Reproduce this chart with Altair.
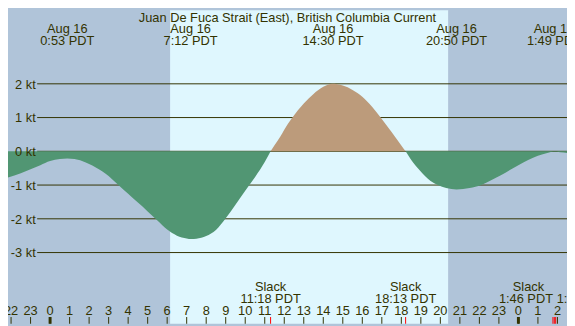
import altair as alt
import pandas as pd

# ---------------- data ----------------
TITLE = "Juan De Fuca Strait (East), British Columbia Current"

# current curve: hours since 00:00 Aug 16 PDT, knots
curve_hours = [-2.16, -1.5, -1.0, -0.5, 0.0, 0.5, 0.88, 1.25, 1.83, 2.5, 2.83,
               3.5, 4.0, 4.5, 5.0, 5.5, 6.0, 6.5, 7.0, 7.23, 7.5, 8.0, 8.5,
               9.0, 9.5, 10.0, 10.5, 11.0, 11.3,
               11.5, 11.8, 12.0, 12.38, 13.0, 13.5, 14.0, 14.45, 15.0, 15.5,
               16.0, 16.5, 16.94, 17.5, 18.0, 18.22,
               18.5, 18.95, 19.5, 19.87, 20.3, 20.83, 21.5, 22.1, 22.6, 23.1,
               23.7, 24.25, 24.75, 25.25, 25.8, 26.49]
curve_knots = [-0.78, -0.65, -0.53, -0.41, -0.29, -0.23, -0.21, -0.23, -0.33, -0.53, -0.66,
               -1.0, -1.26, -1.52, -1.78, -2.05, -2.32, -2.50, -2.58, -2.60, -2.59, -2.51, -2.33,
               -1.98, -1.58, -1.17, -0.77, -0.32, 0.0,
               0.18, 0.44, 0.64, 0.97, 1.42, 1.70, 1.91, 2.0, 1.95, 1.82,
               1.62, 1.32, 1.0, 0.57, 0.17, 0.0,
               -0.25, -0.57, -0.88, -1.0, -1.09, -1.13, -1.09, -1.0, -0.86, -0.71,
               -0.51, -0.33, -0.19, -0.09, -0.01, -0.05]
# slack (zero-crossing) hours separating ebb / flood segments
crossing_hours = [11.3, 18.22]

# day / night bands (sunrise ~6:09, sunset ~20:25)
band_start = [-2.16, 6.15, 20.41]
band_end = [6.15, 20.41, 26.49]
band_kind = ["night", "day", "night"]

# horizontal guide lines
grid_knots = [2, 1, 0, -1, -2, -3]
grid_labels = ["2 kt", "1 kt", "0 kt", "-1 kt", "-2 kt", "-3 kt"]

# max / min current events (top labels)
event_hours = [0.88, 7.2, 14.5, 20.83, 25.82]
event_dates = ["Aug 16", "Aug 16", "Aug 16", "Aug 16", "Aug 17"]
event_times = ["0:53 PDT", "7:12 PDT", "14:30 PDT", "20:50 PDT", "1:49 PDT"]

# slack events (bottom labels)
slack_hours = [11.3, 18.22]
slack_times = ["11:18 PDT", "18:13 PDT"]
end_slack_hours = [25.77]
end_slack_times = ["1:46 PDT"]
edge_slack_hours = [25.91]
edge_slack_times = ["1:55 PDT"]
red_tick_hours = [11.3, 18.22, 25.77, 25.84, 25.91]

# hour ticks
tick_hours = list(range(-2, 27))
tick_labels = [str(h % 24) for h in tick_hours]
midnight_hours = [0, 24]

# ---------------- styling ----------------
W, H = 567, 318
SX, SY = W / 575, H / 326
NIGHT = "#b0c4d9"
DAY = "#dff7fe"
EBB = "#519673"
FLOOD = "#bc9b7b"
INK = "#333300"
FONT = "Liberation Sans"
FS = 13

xs = alt.Scale(domain=[-2.157, 26.49], nice=False, zero=False)
ys = alt.Scale(domain=[-5.11, 4.18], nice=False, zero=False)


def X(field):
    return alt.X(field, type="quantitative", scale=xs, axis=None)


def Y(field):
    return alt.Y(field, type="quantitative", scale=ys, axis=None)


bands = alt.Chart(pd.DataFrame({"start": band_start, "end": band_end, "kind": band_kind})).mark_rect().encode(
    x=X("start"), x2="end",
    color=alt.Color("kind:N", scale=alt.Scale(domain=["night", "day"], range=[NIGHT, DAY]), legend=None),
)

grid_df = pd.DataFrame({"kt": grid_knots, "label": grid_labels})
grid = alt.Chart(grid_df).mark_rule(color=INK, strokeWidth=1).encode(
    y=Y("kt"), x=alt.value(30 * SX), x2=alt.value(W)
)

# split the curve into ebb / flood segments at the slack crossings
curve = pd.DataFrame({"h": curve_hours, "v": curve_knots})
edges = [curve_hours[0]] + crossing_hours + [curve_hours[-1]]
parts = []
for i in range(len(edges) - 1):
    seg = curve[(curve.h >= edges[i]) & (curve.h <= edges[i + 1])].copy()
    seg["seg"] = i
    seg["kind"] = "flood" if seg.v.mean() > 0 else "ebb"
    parts.append(seg)
seg_df = pd.concat(parts, ignore_index=True)

areas = alt.Chart(seg_df).mark_area(interpolate="monotone", opacity=1).encode(
    x=X("h"), y=Y("v"), y2=alt.datum(0), detail="seg:N",
    color=alt.Color("kind:N", scale=alt.Scale(domain=["ebb", "flood"], range=[EBB, FLOOD]), legend=None),
)

ylabels = alt.Chart(grid_df).mark_text(
    align="right", baseline="middle", font=FONT, fontSize=FS, color=INK, dy=1
).encode(y=Y("kt"), x=alt.value(28.5 * SX), text="label:N")

title = alt.Chart(pd.DataFrame({"t": [TITLE]})).mark_text(
    align="center", baseline="alphabetic", font=FONT, fontSize=FS, color=INK
).encode(x=alt.value(W / 2), y=alt.value(12 * SY), text="t:N")

txt = dict(baseline="alphabetic", font=FONT, fontSize=FS, color=INK)

ev_df = pd.DataFrame({"h": event_hours, "d": event_dates, "t": event_times})
ev_date = alt.Chart(ev_df).mark_text(align="center", **txt).encode(
    x=X("h"), y=alt.value(23.3 * SY), text="d:N")
ev_time = alt.Chart(ev_df).mark_text(align="center", **txt).encode(
    x=X("h"), y=alt.value(36 * SY), text="t:N")

sl_df = pd.DataFrame({"h": slack_hours, "t": slack_times})
sl_word = alt.Chart(sl_df).mark_text(align="center", **txt).encode(
    x=X("h"), y=alt.value(291.7 * SY), text=alt.value("Slack"))
sl_time = alt.Chart(sl_df).mark_text(align="center", **txt).encode(
    x=X("h"), y=alt.value(304 * SY), text="t:N")

end_df = pd.DataFrame({"h": end_slack_hours, "t": end_slack_times})
end_word = alt.Chart(end_df).mark_text(align="right", dx=-9, **txt).encode(
    x=X("h"), y=alt.value(291.7 * SY), text=alt.value("Slack"))
end_time = alt.Chart(end_df).mark_text(align="right", **txt).encode(
    x=X("h"), y=alt.value(304 * SY), text="t:N")

edge_df = pd.DataFrame({"h": edge_slack_hours, "t": edge_slack_times})
edge_time = alt.Chart(edge_df).mark_text(align="left", dx=1, **txt).encode(
    x=X("h"), y=alt.value(304 * SY), text="t:N")

tick_df = pd.DataFrame({"h": tick_hours, "lab": tick_labels})
hour_labels = alt.Chart(tick_df).mark_text(align="center", **txt).encode(
    x=X("h"), y=alt.value(316.7 * SY), text="lab:N")
hour_ticks = alt.Chart(tick_df).mark_rule(color=INK, strokeWidth=1).encode(
    x=X("h"), y=alt.value(319 * SY), y2=alt.value(H))
mid_ticks = alt.Chart(pd.DataFrame({"h": midnight_hours})).mark_rule(color=INK, strokeWidth=3).encode(
    x=X("h"), y=alt.value(319 * SY), y2=alt.value(H))
red_ticks = alt.Chart(pd.DataFrame({"h": red_tick_hours})).mark_rule(color="#ff0000", strokeWidth=1).encode(
    x=X("h"), y=alt.value(319 * SY), y2=alt.value(H))

chart = alt.layer(
    bands, grid, areas, ylabels, title, ev_date, ev_time,
    sl_word, sl_time, end_word, end_time, edge_time,
    hour_labels, hour_ticks, mid_ticks, red_ticks,
).resolve_scale(color="independent").properties(
    width=W, height=H, padding=0,
    autosize=alt.AutoSizeParams(type="none"),
    background=NIGHT,
).configure_view(strokeWidth=0)

chart.save("out.html", embed_options={"renderer": "svg", "actions": False})
